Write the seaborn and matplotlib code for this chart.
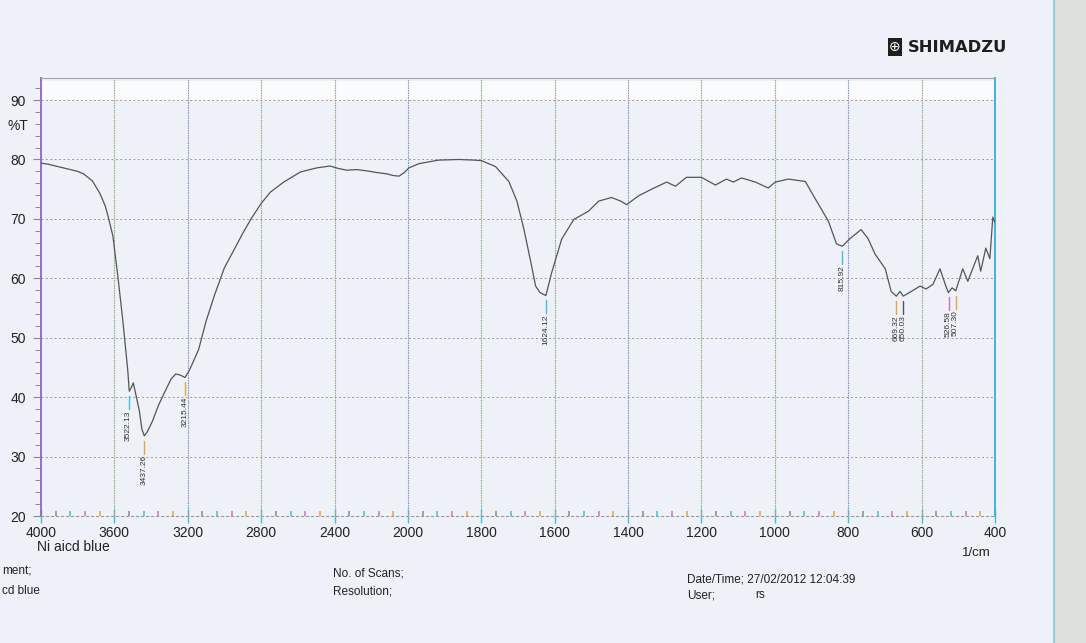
import numpy as np
import pandas as pd
import matplotlib
matplotlib.use('Agg')
import matplotlib.pyplot as plt
import seaborn as sns
from matplotlib.patches import Rectangle
from matplotlib.lines import Line2D

# ---------------- data ----------------
wavenumber = [4000, 3960, 3920, 3880, 3840, 3800, 3769, 3720, 3679, 3650, 3634, 3608,
              3581, 3554, 3527, 3519, 3508, 3497, 3482, 3464, 3450, 3437, 3420, 3392,
              3360, 3322, 3290, 3265, 3240, 3215, 3190, 3141, 3100, 3054, 3000, 2946,
              2900, 2855, 2800, 2750, 2677, 2586, 2495, 2425, 2380, 2334, 2280, 2226,
              2170, 2118, 2080, 2048, 2020, 1997, 1970, 1916, 1861, 1820, 1799, 1761,
              1725, 1703, 1684, 1665, 1652, 1640, 1624, 1608, 1581, 1548, 1508, 1480,
              1445, 1420, 1404, 1371, 1336, 1295, 1271, 1241, 1200, 1162, 1132, 1113,
              1091, 1053, 1018, 999, 963, 917, 890, 854, 832, 816, 795, 765, 746, 727,
              699, 683, 669, 659, 650, 628, 604, 588, 569, 550, 534, 527, 517, 507,
              488, 474, 461, 447, 439, 425, 414, 406, 400]
transmittance = [79.4, 79.2, 78.9, 78.6, 78.3, 78.0, 77.6, 76.4, 74.3, 72.2, 70.4, 67.1,
                 60.3, 52.9, 44.5, 41.0, 41.6, 42.4, 40.3, 37.7, 34.6, 33.5, 34.2, 36.0,
                 38.6, 41.1, 43.1, 43.9, 43.7, 43.3, 44.6, 48.0, 52.8, 57.2, 61.8, 64.9,
                 67.6, 70.0, 72.6, 74.5, 76.2, 77.9, 78.6, 78.9, 78.5, 78.2, 78.3, 78.1,
                 77.8, 77.6, 77.3, 77.2, 77.8, 78.6, 79.3, 79.9, 80.0, 79.9, 79.8, 78.8,
                 76.3, 73.0, 68.3, 62.7, 58.7, 57.6, 57.1, 61.0, 66.6, 69.9, 71.3, 73.0,
                 73.6, 73.0, 72.4, 73.9, 75.0, 76.2, 75.5, 77.0, 77.0, 75.7, 76.7, 76.2,
                 76.9, 76.2, 75.2, 76.2, 76.7, 76.3, 73.4, 69.6, 65.8, 65.4, 66.7, 68.2,
                 66.7, 64.1, 61.6, 57.8, 57.0, 57.8, 57.0, 57.8, 58.7, 58.2, 59.0, 61.6,
                 58.7, 57.6, 58.4, 57.9, 61.6, 59.5, 61.6, 63.8, 61.2, 65.1, 63.3, 70.3,
                 69.4]

peak_wavenumbers = [3522.13, 3437.26, 3215.44, 1624.12, 815.92, 669.32, 650.03, 526.58, 507.30]
peak_transmittance = [41.0, 33.5, 43.3, 57.1, 65.4, 57.0, 57.0, 57.6, 57.9]
peak_labels = ["3522.13", "3437.26", "3215.44", "1624.12", "815.92",
               "669.32", "650.03", "526.58", "507.30"]

x_ticks = [4000, 3600, 3200, 2800, 2400, 2000, 1800, 1600, 1400, 1200, 1000, 800, 600, 400]
y_ticks = [20, 30, 40, 50, 60, 70, 80, 90]

# ---------------- styling ----------------
sns.set_theme(style='white')
plt.rcParams['font.family'] = ['Liberation Sans', 'DejaVu Sans']

W, H = 1086, 643
bg = '#eef1f8'
fig = plt.figure(figsize=(W / 100, H / 100), dpi=100)
fig.patch.set_facecolor(bg)
ax = fig.add_axes([41 / W, 1 - 516 / H, 954 / W, 438.5 / H])
ax.set_facecolor(bg)


# Shimadzu-style abscissa: scale doubles below 2000 1/cm
def fwd(x):
    x = np.asarray(x, dtype=float)
    return np.where(x > 2000, 2000 + (x - 2000) / 2.0, x)


def inv(y):
    y = np.asarray(y, dtype=float)
    return np.where(y > 2000, 2000 + (y - 2000) * 2.0, y)


ax.set_xscale('function', functions=(fwd, inv))

df = pd.DataFrame({'wavenumber': wavenumber, 'T': transmittance})
sns.lineplot(data=df, x='wavenumber', y='T', ax=ax, color='#555555', lw=0.9,
             sort=False, estimator=None, legend=False, zorder=5)

ax.set_xlim(4000, 400)
ax.set_ylim(20, 93.8)
ax.set_xlabel('')
ax.set_ylabel('')

ax.set_xticks(x_ticks)
ax.set_xticklabels([str(t) for t in x_ticks])
ax.set_xticks([], minor=True)
minor_x = [v for v in list(range(2080, 4000, 80)) + list(range(440, 2000, 40)) if v not in x_ticks]
ax.set_yticks(y_ticks)
ax.set_yticklabels([str(t) for t in y_ticks])
ax.set_yticks([v for v in range(22, 93, 2) if v % 10 != 0], minor=True)

# white band at top of the chart paper
ax.axhspan(90, 93.2, color='#fafbfd', zorder=0.5, lw=0)

# grids
ax.grid(axis='y', which='major', color='#9c9c9c', ls=(0, (2, 2.5)), lw=0.7)
ax.grid(axis='x', which='major', color='#45bfd8', ls=(0, (1.5, 3)), lw=0.8)
grid_cols = ['#e8a33a', '#d070c0', '#e8a33a']
for i, t in enumerate(x_ticks[1:-1]):
    ax.axvline(t, color=grid_cols[i % 3], ls=(2.2, (1.5, 3)), lw=0.8, zorder=0.8)

# coloured minor ticks pointing into the chart (printer colours)
tick_cols = ['#e8a33a', '#d070c0', '#45bfd8', '#8a8a8a']
ax.vlines(minor_x, 0, 0.012, transform=ax.get_xaxis_transform(),
          colors=[tick_cols[i % 4] for i in range(len(minor_x))], lw=1.1, zorder=4)

ax.tick_params(axis='x', which='major', direction='inout', length=10, width=1.0,
               bottom=True, pad=2, labelsize=10, labelcolor='#222222', color='#45bfd8')
ax.tick_params(axis='y', which='major', direction='out', length=6, width=0.8,
               left=True, pad=5, labelsize=10, labelcolor='#222222', color='#8a8a8a')
ax.tick_params(axis='y', which='minor', direction='out', length=4, width=0.7,
               left=True, color='#8a8a8a')

for side in ['left', 'right', 'top', 'bottom']:
    ax.spines[side].set_visible(True)
ax.spines['left'].set_color('#9b6cc4')
ax.spines['left'].set_linewidth(1.4)
ax.spines['right'].set_color('#3db6d4')
ax.spines['right'].set_linewidth(1.4)
ax.spines['top'].set_color('#a5a5a5')
ax.spines['top'].set_linewidth(0.8)
ax.spines['bottom'].set_color('#9c9c9c')
ax.spines['bottom'].set_linewidth(0.8)
ax.spines['bottom'].set_linestyle((0, (2, 2.5)))

# peak labels
lab_cols = ['#45bfd8', '#e8a33a', '#e8a33a', '#45bfd8', '#45bfd8',
            '#e8a33a', '#555555', '#d070c0', '#e8a33a']
for wn, t, lab, col in zip(peak_wavenumbers, peak_transmittance, peak_labels, lab_cols):
    ax.plot([wn, wn], [t - 0.8, t - 3.0], color=col, lw=1.0, zorder=6)
    ax.text(wn, t - 3.2, lab, rotation=90, ha='center', va='top',
            fontsize=6, color='#333333', zorder=6)

# figure texts
fig.text(8 / W, 1 - 126 / H, '%T', fontsize=10, va='center', ha='left', color='#222222')
fig.text(37 / W, 1 - 547 / H, 'Ni aicd blue', fontsize=10, va='center', color='#222222')
fig.text(962 / W, 1 - 553 / H, '1/cm', fontsize=9.5, va='center', color='#222222')
fig.text(2 / W, 1 - 572 / H, 'ment;', fontsize=8.5, va='center', color='#222222')
fig.text(2 / W, 1 - 591 / H, 'cd blue', fontsize=8.5, va='center', color='#222222')
fig.text(333 / W, 1 - 574 / H, 'No. of Scans;', fontsize=8.5, va='center', color='#222222')
fig.text(333 / W, 1 - 592 / H, 'Resolution;', fontsize=8.5, va='center', color='#222222')
fig.text(687 / W, 1 - 579 / H, 'Date/Time; 27/02/2012 12:04:39', fontsize=8.5,
         va='center', color='#222222')
fig.text(687 / W, 1 - 595 / H, 'User;', fontsize=8.5, va='center', color='#222222')
fig.text(755 / W, 1 - 595 / H, 'rs', fontsize=8.5, va='center', color='#222222')

# logo
fig.text(895 / W, 1 - 47 / H, '\u2295', color='white', fontsize=10, ha='center', va='center',
         family='DejaVu Sans',
         bbox=dict(boxstyle='square,pad=0.12', fc='#1e1e1e', ec='none'))
fig.text(908 / W, 1 - 47 / H, 'SHIMADZU', fontsize=11.8, fontweight='bold', color='#1e1e1e',
         va='center', family='DejaVu Sans')

# page edge of the scan
fig.add_artist(Rectangle((1054 / W, 0), (W - 1054) / W, 1, transform=fig.transFigure,
                         fc='#dcdfdc', ec='none', zorder=0))
fig.add_artist(Line2D([1054 / W, 1054 / W], [0, 1], transform=fig.transFigure,
                      color='#7ccfe0', lw=1.2))

fig.savefig('out.png', dpi=100, facecolor=fig.get_facecolor())
